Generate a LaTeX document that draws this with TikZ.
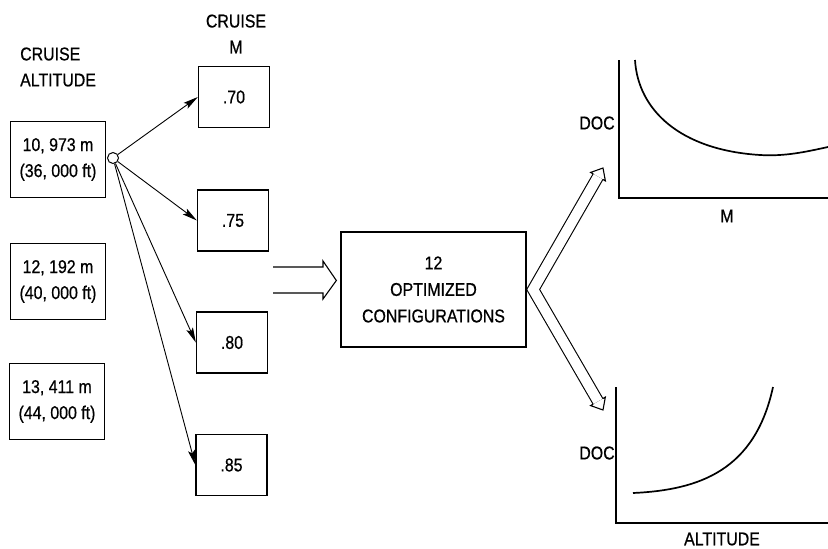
\documentclass[tikz,border=0pt]{standalone}
\usepackage{fontspec}
\setmainfont{Liberation Sans}[FakeStretch=0.86,FakeBold=0.6]
\usetikzlibrary{arrows.meta,calc}
\begin{document}
\begin{tikzpicture}[x=1pt,y=-1pt,
  txt/.style={inner sep=0pt, align=center, font=\fontsize{18.5}{26}\selectfont},
  altbox/.style={draw, line width=1.3pt, minimum width=95pt, minimum height=76pt, inner sep=0pt, align=center, font=\fontsize{18.5}{26}\selectfont},
  machbox/.style={draw, line width=1.3pt, minimum width=71pt, minimum height=61pt, inner sep=0pt, font=\fontsize{18.5}{20}\selectfont},
  optbox/.style={draw, line width=1.3pt, minimum width=185pt, minimum height=115pt, inner sep=0pt, align=center, font=\fontsize{18.5}{26.5}\selectfont},
  thinarrow/.style={line width=0.9pt, -{Stealth[length=15pt,width=7pt,inset=3pt]}},
  hollow/.style={line width=1.1pt, line join=miter},
  axis/.style={line width=1.7pt, line join=miter},
  curve/.style={line width=1.7pt}]
\useasboundingbox (0,0) rectangle (828,549);
\fill[white] (0,0) rectangle (828,549);

% labels
\node[txt, align=left, anchor=west] (altlab) at (20,67) {CRUISE\\ALTITUDE};
\node[txt] (machlab) at (236,34) {CRUISE\\M};

% altitude boxes
\node[altbox] (alt1) at (58,159.5) {10, 973 m\\(36, 000 ft)};
\node[altbox] (alt2) at (58,281.5) {12, 192 m\\(40, 000 ft)};
\node[altbox] (alt3) at (57,401.5) {13, 411 m\\(44, 000 ft)};

% mach boxes
\node[machbox] (m70) at (234,97) {.70};
\node[machbox] (m75) at (233,220.5) {.75};
\node[machbox] (m80) at (232,342.5) {.80};
\node[machbox] (m85) at (231.5,465) {.85};

% branch circle
\node[draw, circle, line width=1pt, minimum size=11pt, inner sep=0pt, fill=white] (c) at (113,158) {};
\draw[thinarrow] (c) -- (m70.west);
\draw[thinarrow] (c) -- (m75.west);
\draw[thinarrow] (c) -- (m80.west);
\draw[thinarrow] (c) -- (m85.west);

% optimized box
\node[optbox] (opt) at (433.5,289.5) {12\\OPTIMIZED\\CONFIGURATIONS};

% left hollow arrow into opt
\coordinate (lt) at ($(opt.west)+(-4,-9)$);
\coordinate (ls) at (273,280);
\draw[hollow] (ls |- 0,267) -- (323,267) -- (323,261) -- (lt) -- (323,299) -- (323,293) -- (ls |- 0,293);

% chevron hollow arrows out of opt
\coordinate (apex) at ($(opt.east)+(6.5,0)$);
\coordinate (tu) at (603,168);
\coordinate (tl) at (603,410);
\coordinate (eu) at ($(tu)!10pt!(apex)$);
\coordinate (el) at ($(tl)!10pt!(apex)$);
\draw[hollow, double distance=10pt] (eu) -- (apex) -- (el);
\draw[hollow] ($(eu)!5.5pt!90:(tu)$) -- ($(eu)!8.5pt!90:(tu)$) -- (tu) -- ($(eu)!8.5pt!-90:(tu)$) -- ($(eu)!5.5pt!-90:(tu)$);
\draw[hollow] ($(el)!5.5pt!90:(tl)$) -- ($(el)!8.5pt!90:(tl)$) -- (tl) -- ($(el)!8.5pt!-90:(tl)$) -- ($(el)!5.5pt!-90:(tl)$);

% top graph
\draw[axis] (619,60) -- (619,198) -- (828,198);
\draw[curve] (635,60) .. controls (638,110) and (680,150) .. (760,155) .. controls (785,156.5) and (805,152) .. (828,147);
\node[txt] (doc1) at (597,123) {DOC};
\node[txt] (mx) at (727,216) {M};

% bottom graph
\draw[axis] (616,387) -- (616,523) -- (828,523);
\draw[curve] (633,493) .. controls (700,490) and (755,470) .. (773,387);
\node[txt] (doc2) at (597,453) {DOC};
\node[txt] (altx) at (722,539) {ALTITUDE};
\end{tikzpicture}
\end{document}
